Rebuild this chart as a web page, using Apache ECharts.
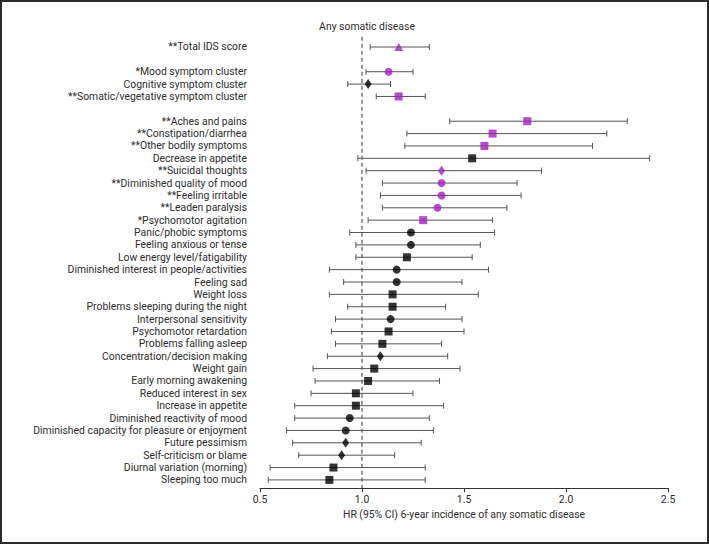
<!DOCTYPE html>
<html>
<head>
<meta charset="utf-8">
<script src="https://cdn.jsdelivr.net/npm/echarts@6/dist/echarts.min.js"></script>
<style>html,body{margin:0;padding:0;background:#fff}#c{width:709px;height:544px}</style>
</head>
<body>
<div id="c"></div>
<script>
// ---- data ----
const categories = [
  '**Total IDS score', ' ',
  '*Mood symptom cluster', 'Cognitive symptom cluster', '**Somatic/vegetative symptom cluster', '  ',
  '**Aches and pains', '**Constipation/diarrhea', '**Other bodily symptoms', 'Decrease in appetite',
  '**Suicidal thoughts', '**Diminished quality of mood', '**Feeling irritable', '**Leaden paralysis',
  '*Psychomotor agitation', 'Panic/phobic symptoms', 'Feeling anxious or tense', 'Low energy level/fatigability',
  'Diminished interest in people/activities', 'Feeling sad', 'Weight loss', 'Problems sleeping during the night',
  'Interpersonal sensitivity', 'Psychomotor retardation', 'Problems falling asleep', 'Concentration/decision making',
  'Weight gain', 'Early morning awakening', 'Reduced interest in sex', 'Increase in appetite',
  'Diminished reactivity of mood', 'Diminished capacity for pleasure or enjoyment', 'Future pessimism',
  'Self-criticism or blame', 'Diurnal variation (morning)', 'Sleeping too much'
];
const hr = [
  1.18, null,
  1.13, 1.03, 1.18, null,
  1.81, 1.64, 1.60, 1.54,
  1.39, 1.39, 1.39, 1.37,
  1.30, 1.24, 1.24, 1.22,
  1.17, 1.17, 1.15, 1.15,
  1.14, 1.13, 1.10, 1.09,
  1.06, 1.03, 0.97, 0.97,
  0.94, 0.92, 0.92,
  0.90, 0.86, 0.84
];
const lower = [
  1.04, null,
  1.02, 0.93, 1.07, null,
  1.43, 1.22, 1.21, 0.98,
  1.02, 1.10, 1.09, 1.10,
  1.03, 0.94, 0.97, 0.97,
  0.84, 0.91, 0.84, 0.93,
  0.87, 0.85, 0.87, 0.83,
  0.76, 0.77, 0.75, 0.67,
  0.67, 0.63, 0.66,
  0.69, 0.55, 0.54
];
const upper = [
  1.33, null,
  1.25, 1.14, 1.31, null,
  2.30, 2.20, 2.13, 2.41,
  1.88, 1.76, 1.78, 1.71,
  1.64, 1.65, 1.58, 1.54,
  1.62, 1.49, 1.57, 1.41,
  1.49, 1.50, 1.39, 1.42,
  1.48, 1.38, 1.25, 1.40,
  1.33, 1.35, 1.29,
  1.16, 1.31, 1.31
];
const cluster = [
  'total', null,
  'mood', 'cognitive', 'somatic', null,
  'somatic', 'somatic', 'somatic', 'somatic',
  'cognitive', 'mood', 'mood', 'mood',
  'somatic', 'mood', 'mood', 'somatic',
  'mood', 'mood', 'somatic', 'somatic',
  'mood', 'somatic', 'somatic', 'cognitive',
  'somatic', 'somatic', 'somatic', 'somatic',
  'mood', 'mood', 'cognitive',
  'cognitive', 'somatic', 'somatic'
];
const referenceHR = 1.0;
const xMin = 0.5, xMax = 2.5, xStep = 0.5;
const panelTitle = 'Any somatic disease';
const xTitle = 'HR (95% CI) 6-year incidence of any somatic disease';

// ---- styles ----
const FONT = 'Roboto';
const FS = 10.4;
const TXT = '#2e2e2e';
const PURPLE = '#a11fbe';
const BLACK = '#000000';
const symbolFor = {
  total: { symbol: 'triangle', size: [9, 8] },
  mood: { symbol: 'circle', size: 8 },
  cognitive: { symbol: 'diamond', size: [7, 10] },
  somatic: { symbol: 'rect', size: 8 }
};
const GRID = { left: 260, right: 41, top: 40.8, bottom: 57.9 };

const ciData = [];
const pointData = [];
categories.forEach((c, i) => {
  if (hr[i] == null) return;
  ciData.push([lower[i], upper[i], i]);
  const s = symbolFor[cluster[i]];
  pointData.push({
    value: [hr[i], i],
    symbol: s.symbol,
    symbolSize: s.size,
    itemStyle: { color: c.startsWith('*') ? PURPLE : BLACK }
  });
});

const chart = echarts.init(document.getElementById('c'), null, { renderer: 'svg' });
const plotW = 709 - GRID.left - GRID.right;
chart.setOption({
  animation: false,
  backgroundColor: '#fff',
  title: {
    text: panelTitle,
    left: GRID.left + (referenceHR - xMin) / (xMax - xMin) * plotW,
    textAlign: 'center',
    top: 16,
    textStyle: { fontFamily: FONT, fontSize: FS, fontWeight: 'normal', color: TXT }
  },
  graphic: [{
    type: 'rect', shape: { x: 1, y: 1, width: 707, height: 542 },
    style: { fill: 'none', stroke: '#2a2a2a', lineWidth: 2 }, silent: true
  }],
  grid: GRID,
  xAxis: {
    type: 'value', min: xMin, max: xMax, interval: xStep, offset: 2,
    name: xTitle, nameLocation: 'middle', nameGap: 21,
    nameTextStyle: { fontFamily: FONT, fontSize: FS, color: TXT },
    axisLine: { show: true, lineStyle: { color: '#333', width: 1 } },
    axisTick: { show: true, length: 4, lineStyle: { color: '#333' } },
    axisLabel: { fontFamily: FONT, fontSize: FS, color: TXT, margin: 6, formatter: v => v.toFixed(1) },
    splitLine: { show: false }
  },
  yAxis: {
    type: 'category', data: categories, inverse: true, boundaryGap: true,
    axisLine: { show: false }, axisTick: { show: false }, splitLine: { show: false },
    axisLabel: { fontFamily: FONT, fontSize: FS, color: TXT, margin: 13, interval: 0 }
  },
  series: [
    {
      type: 'custom', silent: true, data: [[referenceHR, 0]],
      renderItem: (params, api) => {
        const p = api.coord([api.value(0), 0]);
        const cs = params.coordSys;
        return {
          type: 'line',
          shape: { x1: p[0], y1: cs.y - 4, x2: p[0], y2: cs.y + cs.height + 2 },
          style: { stroke: '#333', lineWidth: 1, lineDash: [4, 3] }
        };
      }
    },
    {
      type: 'custom', silent: true, data: ciData,
      encode: { x: [0, 1], y: 2 },
      renderItem: (params, api) => {
        const a = api.coord([api.value(0), api.value(2)]);
        const b = api.coord([api.value(1), api.value(2)]);
        const st = { stroke: '#555', lineWidth: 1 };
        return {
          type: 'group',
          children: [
            { type: 'line', shape: { x1: a[0], y1: a[1], x2: b[0], y2: b[1] }, style: st },
            { type: 'line', shape: { x1: a[0], y1: a[1] - 3, x2: a[0], y2: a[1] + 3 }, style: st },
            { type: 'line', shape: { x1: b[0], y1: b[1] - 3, x2: b[0], y2: b[1] + 3 }, style: st }
          ]
        };
      }
    },
    {
      type: 'scatter', silent: true, data: pointData, z: 5
    }
  ]
});
</script>
</body>
</html>
